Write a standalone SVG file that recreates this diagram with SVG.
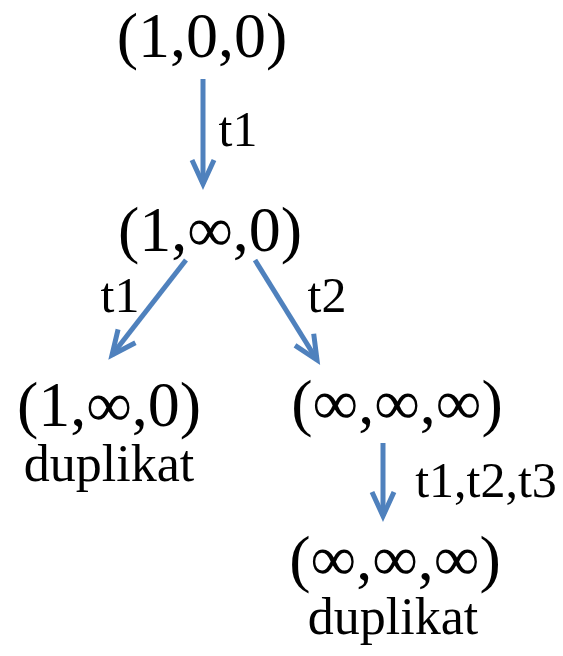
<svg xmlns="http://www.w3.org/2000/svg" width="563" height="656" viewBox="0 0 563 656">
<defs>
<style>
.t{font-family:"Liberation Serif","Times New Roman",serif;fill:#000;text-anchor:middle}
.big{font-size:64px}
.lab{font-size:50px}
.dup{font-size:52px}
.c{stroke:#4F81BD;stroke-width:5;fill:none}
</style>
<marker id="ah" markerUnits="userSpaceOnUse" markerWidth="40" markerHeight="40" viewBox="-30 -20 40 40" refX="0" refY="0" orient="auto">
<path d="M -24 -11 L 0 0 L -24 11" fill="none" stroke="#4F81BD" stroke-width="5" stroke-linejoin="miter"/>
</marker>
</defs>
<rect width="563" height="656" fill="#fff"/>
<g id="connectors">
<line class="c" x1="203" y1="79" x2="203" y2="184" marker-end="url(#ah)"/>
<line class="c" x1="186" y1="260" x2="112" y2="355" marker-end="url(#ah)"/>
<line class="c" x1="255" y1="260" x2="317" y2="360" marker-end="url(#ah)"/>
<line class="c" x1="383" y1="443" x2="383" y2="516" marker-end="url(#ah)"/>
<text class="t lab" x="238" y="146">t1</text>
<text class="t lab" x="120" y="312">t1</text>
<text class="t lab" x="327" y="312">t2</text>
<text class="t lab" x="486" y="497">t1,t2,t3</text>
</g>
<g id="n1"><text class="t big" x="202" y="57">(1,0,0)</text></g>
<g id="n2"><text class="t big" x="210" y="251">(1,∞,0)</text></g>
<g id="n3"><text class="t big" x="109" y="426">(1,∞,0)</text><text class="t dup" x="109" y="481">duplikat</text></g>
<g id="n4"><text class="t big" x="397" y="424">(∞,∞,∞)</text></g>
<g id="n5"><text class="t big" x="395" y="580">(∞,∞,∞)</text><text class="t dup" x="393" y="634">duplikat</text></g>
</svg>
